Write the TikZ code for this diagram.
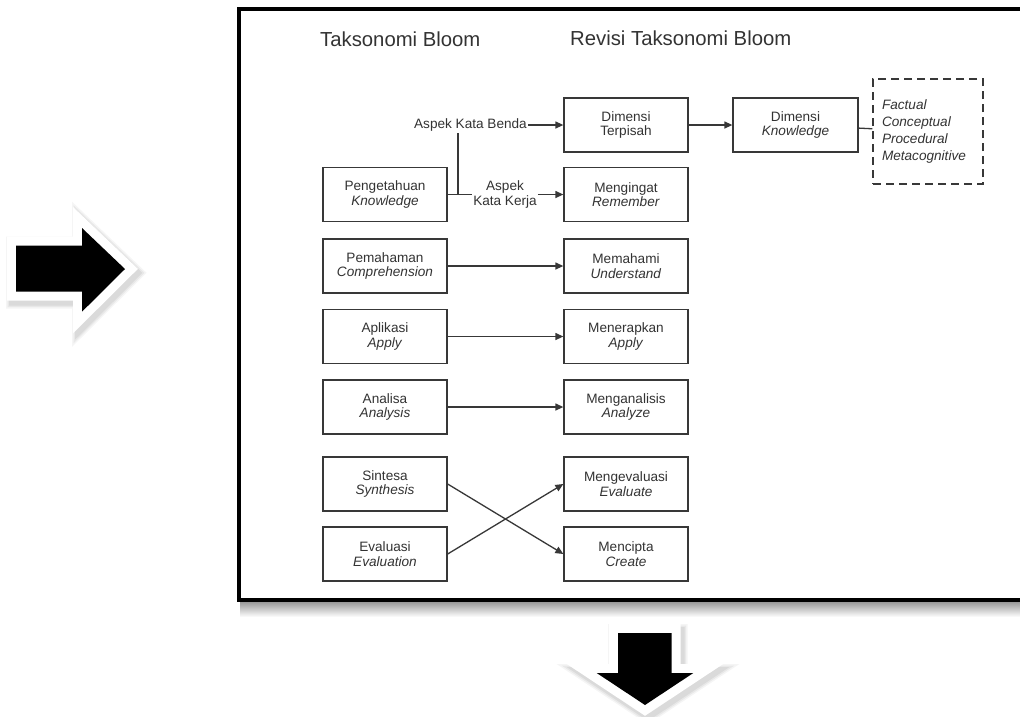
\documentclass[tikz,border=0pt]{standalone}
\usepackage{fontspec}
\setmainfont{Liberation Sans}
\usetikzlibrary{arrows.meta}
\definecolor{ink}{gray}{0.22}
\definecolor{txt}{gray}{0.2}
\begin{document}
\begin{tikzpicture}[x=1pt,y=-1pt,
  box/.style={draw=ink, line width=1.3pt, minimum width=124pt, minimum height=54pt, inner sep=2pt, align=center, text=txt, font=\fontsize{13.6}{14.3}\selectfont},
  lbl/.style={text=txt, font=\fontsize{13.6}{14.3}\selectfont, align=center, inner sep=1pt},
  heading/.style={text=txt, font=\fontsize{20.3}{24}\selectfont, inner sep=0pt, anchor=west},
  conn/.style={draw=ink, line width=1.3pt, -{Triangle[length=8pt,width=7pt]}},
  plain/.style={draw=ink, line width=1.3pt},
  dbox/.style={draw=ink, line width=1.3pt, dash pattern=on 8pt off 5pt, minimum height=105pt, text width=92pt, inner xsep=9pt, align=left, text=txt, font=\fontsize{13.6}{16.7}\selectfont\itshape},
  shadowlayer/.style={fill=black, draw=black, line join=miter},
  bigwhite/.style={fill=white, draw=white, line width=18pt, line join=miter},
]
\useasboundingbox (0,0) rectangle (1020,716);
\clip (0,0) rectangle (1020,716);
\fill[white] (0,0) rectangle (1020,716);

% frame shadow and frame
\shade[top color=black!40, bottom color=white] (240,602) rectangle (1020,617);
\draw[line width=4pt, fill=white] (238.7,8.7) rectangle (1040,600);

% big right arrow (left side)
\foreach \w/\o in {26/0.04, 23/0.05, 20/0.06} {
  \begin{scope}[transparency group, opacity=\o, shift={(3,4)}]
    \path[shadowlayer, line width=\w pt] (16,245.7) -- (82,245.7) -- (82,228) -- (125,269) -- (82,311.7) -- (82,291.7) -- (16,291.7) -- cycle;
  \end{scope}
}
\path[bigwhite] (16,245.7) -- (82,245.7) -- (82,228) -- (125,269) -- (82,311.7) -- (82,291.7) -- (16,291.7) -- cycle;
\fill[black] (16,245.7) -- (82,245.7) -- (82,228) -- (125,269) -- (82,311.7) -- (82,291.7) -- (16,291.7) -- cycle;

% big down arrow
\foreach \w/\o in {26/0.04, 23/0.05, 20/0.06} {
  \begin{scope}[transparency group, opacity=\o, shift={(3,4)}]
    \path[shadowlayer, line width=\w pt] (618,633) -- (671.7,633) -- (671.7,673) -- (693.3,673) -- (645,705) -- (596.7,673) -- (618,673) -- cycle;
  \end{scope}
}
\path[bigwhite] (618,633) -- (671.7,633) -- (671.7,673) -- (693.3,673) -- (645,705) -- (596.7,673) -- (618,673) -- cycle;
\fill[black] (618,633) -- (671.7,633) -- (671.7,673) -- (693.3,673) -- (645,705) -- (596.7,673) -- (618,673) -- cycle;

% titles
\node[heading] (tb) at (320,39) {Taksonomi Bloom};
\node[heading] (rtb) at (570,38) {Revisi Taksonomi Bloom};

% top row
\node[box] (dt) at (626,125) {Dimensi\\Terpisah};
\node[box, minimum width=125pt] (dk) at (795.5,125) {Dimensi\\\textit{Knowledge}};
\node[dbox] (dfac) at (928,131.5) {Factual\\Conceptual\\Procedural\\Metacognitive};
\node[lbl] (akb) at (470.5,125) {Aspek Kata Benda};
\node[lbl] (akk) at (505,194.5) {Aspek\\Kata Kerja};

% left column
\node[box] (pen) at (385,194.5) {Pengetahuan\\\textit{Knowledge}};
\node[box] (pem) at (385,266) {Pemahaman\\\textit{Comprehension}};
\node[box] (apl) at (385,336.5) {Aplikasi\\\textit{Apply}};
\node[box] (ana) at (385,407) {Analisa\\\textit{Analysis}};
\node[box] (sin) at (385,484) {Sintesa\\\textit{Synthesis}};
\node[box] (eva) at (385,554) {Evaluasi\\\textit{Evaluation}};

% right column
\node[box] (rem) at (626,194.5) {Mengingat\\\textit{Remember}};
\node[box] (mem) at (626,266) {Memahami\\\textit{Understand}};
\node[box] (men) at (626,336.5) {Menerapkan\\\textit{Apply}};
\node[box] (mga) at (626,407) {Menganalisis\\\textit{Analyze}};
\node[box] (mev) at (626,484) {Mengevaluasi\\\textit{Evaluate}};
\node[box] (mcp) at (626,554) {Mencipta\\\textit{Create}};

% connectors
\draw[conn] (akb) -- (dt);
\draw[conn] (dt) -- (dk);
\draw[plain] (dk) -- (dfac);
\draw[plain] (pen.east) -- (akk.west);
\coordinate (J) at (458,194.5);
\draw[plain] (J) -- (J |- akb.south);
\draw[conn] (akk) -- (rem);
\draw[conn] (pem) -- (mem);
\draw[conn] (apl) -- (men);
\draw[conn] (ana) -- (mga);
\draw[conn] (sin.east) -- (mcp.west);
\draw[conn] (eva.east) -- (mev.west);
\end{tikzpicture}
\end{document}
